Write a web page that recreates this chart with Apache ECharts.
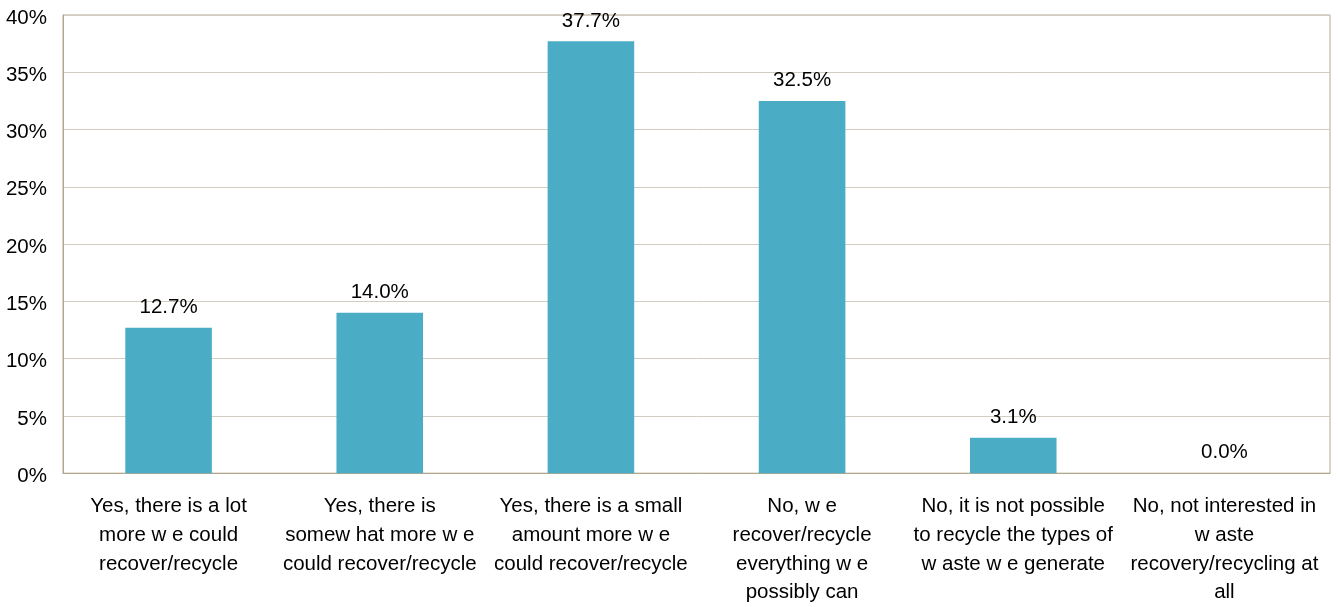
<!DOCTYPE html>
<html>
<head>
<meta charset="utf-8">
<script src="https://cdn.jsdelivr.net/npm/echarts@6/dist/echarts.min.js"></script>
<style>
  html, body { margin: 0; padding: 0; background: #ffffff; }
  #chart { width: 1338px; height: 607px; }
</style>
</head>
<body>
<div id="chart"></div>
<script>
// Survey answers: room left to recover/recycle waste
const categories = [
  "Yes, there is a lot\nmore w e could\nrecover/recycle",
  "Yes, there is\nsomew hat more w e\ncould recover/recycle",
  "Yes, there is a small\namount more w e\ncould recover/recycle",
  "No, w e\nrecover/recycle\neverything w e\npossibly can",
  "No, it is not possible\nto recycle the types of\nw aste w e generate",
  "No, not interested in\nw aste\nrecovery/recycling at\nall"
];
const shares = [12.7, 14.0, 37.7, 32.5, 3.1, 0.0];
const yTicks = { min: 0, max: 40, interval: 5 };

const FONT = "'Liberation Sans', Arial, sans-serif";
const FS = 20.5;

const chart = echarts.init(document.getElementById('chart'), null, { renderer: 'canvas' });
chart.setOption({
  animation: false,
  backgroundColor: '#ffffff',
  grid: { left: 63, right: 8, top: 15, bottom: 129, show: true, borderColor: '#b3a78f', borderWidth: 1 },
  xAxis: {
    type: 'category',
    data: categories,
    axisLine: { show: true, lineStyle: { color: '#b3a78f', width: 1 } },
    axisTick: { show: false },
    axisLabel: {
      interval: 0,
      margin: 19,
      color: '#000000',
      fontFamily: FONT,
      fontSize: FS,
      lineHeight: 28.7,
      align: 'center'
    }
  },
  yAxis: {
    type: 'value',
    min: yTicks.min,
    max: yTicks.max,
    interval: yTicks.interval,
    axisLine: { show: true, lineStyle: { color: '#b3a78f', width: 1 } },
    axisTick: { show: false },
    splitLine: { show: true, lineStyle: { color: '#d3ccc0', width: 1 } },
    axisLabel: {
      margin: 16,
      verticalAlign: 'top',
      lineHeight: 6,
      color: '#000000',
      fontFamily: FONT,
      fontSize: FS,
      formatter: v => v + '%'
    }
  },
  series: [{
    type: 'bar',
    data: shares,
    barWidth: '41%',
    itemStyle: { color: '#4bacc6' },
    label: {
      show: true,
      position: 'top',
      distance: 10,
      color: '#000000',
      fontFamily: FONT,
      fontSize: FS,
      formatter: p => p.value.toFixed(1) + '%'
    }
  }]
});
</script>
</body>
</html>
